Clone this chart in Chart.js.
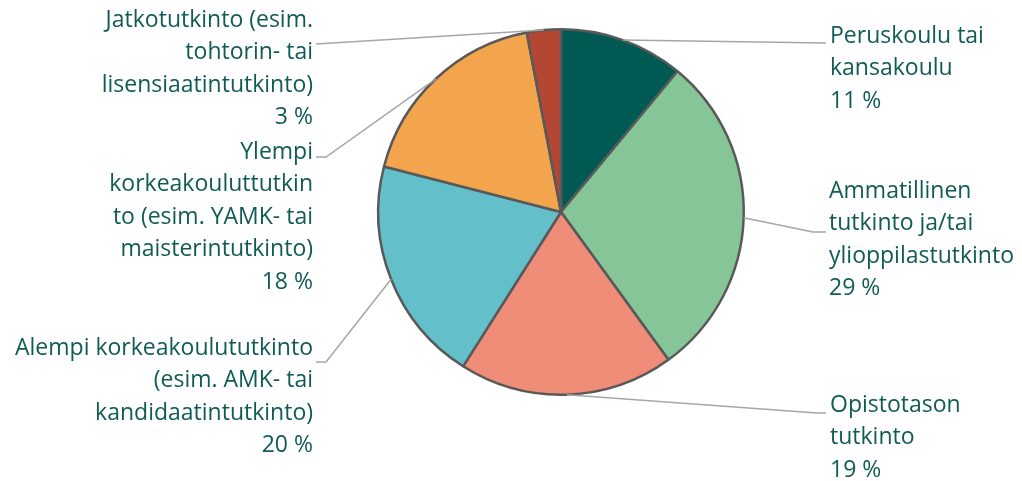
<!DOCTYPE html>
<html>
<head>
<meta charset="utf-8">
<script src="https://cdn.jsdelivr.net/npm/chart.js@4/dist/chart.umd.min.js"></script>
<style>
    html, body { margin: 0; padding: 0; background: #ffffff; }
    #wrap { width: 1022px; height: 481px; position: relative; }
</style>
</head>
<body>
<div id="wrap"><canvas id="pie"></canvas></div>
<script>
// Data
const categories = [
    'Peruskoulu tai kansakoulu',
    'Ammatillinen tutkinto ja/tai ylioppilastutkinto',
    'Opistotason tutkinto',
    'Alempi korkeakoulututkinto (esim. AMK- tai kandidaatintutkinto)',
    'Ylempi korkeakouluttutkinto (esim. YAMK- tai maisterintutkinto)',
    'Jatkotutkinto (esim. tohtorin- tai lisensiaatintutkinto)'
];
const shares = [11, 29, 19, 20, 18, 3];
// label text as it wraps in the reference
const labelLines = [
    ['Peruskoulu tai', 'kansakoulu'],
    ['Ammatillinen', 'tutkinto ja/tai', 'ylioppilastutkinto'],
    ['Opistotason', 'tutkinto'],
    ['Alempi korkeakoulututkinto', '(esim. AMK- tai', 'kandidaatintutkinto)'],
    ['Ylempi', 'korkeakouluttutkin', 'to (esim. YAMK- tai', 'maisterintutkinto)'],
    ['Jatkotutkinto (esim.', 'tohtorin- tai', 'lisensiaatintutkinto)']
];
const sliceColors = ['#005a54', '#86c597', '#f08d78', '#63c0cb', '#f2a54c', '#b34733'];

const textColor = '#105c55';
const lineHeight = 32.5;

// where each label block sits and where its leader line bends
const labelLayout = [
    { side: 'right', x: 830, y: 36,  elbow: [826, 43],  end: [826, 43] },
    { side: 'right', x: 829, y: 191, elbow: [813, 232], end: [826, 232] },
    { side: 'right', x: 830, y: 405, elbow: [817, 413], end: [826, 413] },
    { side: 'left',  x: 313, y: 348, elbow: [326, 362], end: [316, 362] },
    { side: 'left',  x: 313, y: 152, elbow: [326, 157], end: [316, 157] },
    { side: 'left',  x: 313, y: 20,  elbow: [316, 44],  end: [316, 44] }
];

const outsideLabels = {
    id: 'outsideLabels',
    afterDatasetsDraw(chart) {
        const ctx = chart.ctx;
        const meta = chart.getDatasetMeta(0);
        meta.data.forEach((arc, i) => {
            const p = arc.getProps(['x', 'y', 'startAngle', 'endAngle', 'outerRadius'], true);
            const mid = (p.startAngle + p.endAngle) / 2;
            const sx = p.x + Math.cos(mid) * p.outerRadius;
            const sy = p.y + Math.sin(mid) * p.outerRadius;
            const lay = labelLayout[i];

            ctx.save();
            ctx.strokeStyle = '#a6a6a6';
            ctx.lineWidth = 1.5;
            ctx.beginPath();
            ctx.moveTo(sx, sy);
            ctx.lineTo(lay.elbow[0], lay.elbow[1]);
            ctx.lineTo(lay.end[0], lay.end[1]);
            ctx.stroke();

            ctx.fillStyle = textColor;
            ctx.font = '23px "Open Sans"';
            ctx.textBaseline = 'middle';
            ctx.textAlign = lay.side === 'right' ? 'left' : 'right';
            const lines = labelLines[i].concat([shares[i] + ' %']);
            lines.forEach((t, k) => {
                ctx.fillText(t, lay.x, lay.y + k * lineHeight);
            });
            ctx.restore();
        });
    }
};

new Chart(document.getElementById('pie'), {
    type: 'pie',
    data: {
        labels: categories,
        datasets: [{
            data: shares,
            backgroundColor: sliceColors,
            borderColor: '#595959',
            borderWidth: 2.5
        }]
    },
    options: {
        responsive: true,
        maintainAspectRatio: false,
        animation: false,
        layout: { padding: { left: 377, right: 277, top: 28, bottom: 85 } },
        plugins: {
            legend: { display: false },
            tooltip: { enabled: false }
        }
    },
    plugins: [outsideLabels]
});
</script>
</body>
</html>
